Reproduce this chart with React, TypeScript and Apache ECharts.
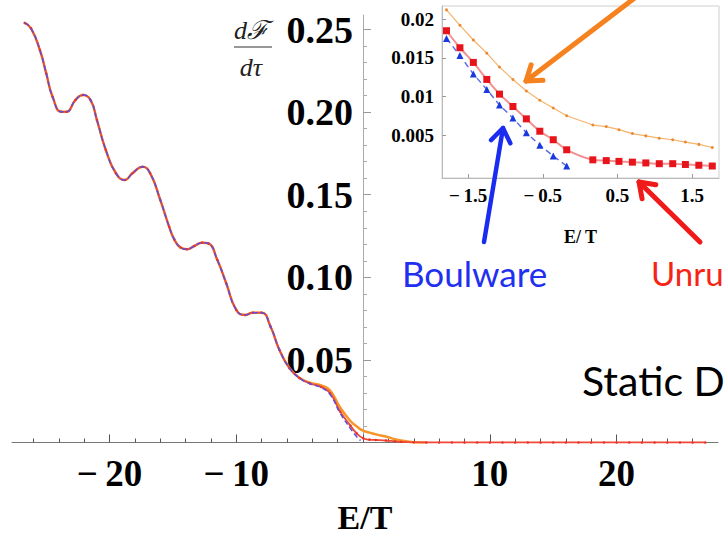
import React, { useEffect, useRef } from "react";
import * as echarts from "echarts";

// ---------- main plot data ----------
const mainX = [-26.7, -26.2, -25.5, -25.0, -24.5, -23.8, -23.4, -22.7, -22.1, -21.5, -21.0, -20.3, -19.5, -18.8, -18.2, -17.4, -16.8, -16.0, -15.3, -14.9, -14.4, -13.9, -13.3, -12.7, -12.2, -11.5, -10.8, -10.0, -9.3, -8.7, -8.0, -7.3, -6.6, -5.8, -5.0, -4.2, -3.3, -2.6, -1.8, -1.0, -0.5];
const mainRed = [0.254, 0.2507, 0.2376, 0.2235, 0.2093, 0.2002, 0.2002, 0.2073, 0.2104, 0.2073, 0.1952, 0.1771, 0.163, 0.1589, 0.163, 0.1669, 0.163, 0.1468, 0.1306, 0.123, 0.118, 0.117, 0.119, 0.121, 0.1205, 0.1105, 0.0964, 0.0802, 0.0772, 0.0786, 0.0786, 0.0701, 0.056, 0.0449, 0.0389, 0.0358, 0.0336, 0.0298, 0.0186, 0.0102, 0.0055];
const mainBlue = [0.254, 0.2507, 0.2376, 0.2235, 0.2093, 0.2002, 0.2002, 0.2073, 0.2104, 0.2073, 0.1952, 0.1771, 0.163, 0.1589, 0.163, 0.1669, 0.163, 0.1468, 0.1306, 0.123, 0.118, 0.117, 0.119, 0.121, 0.1205, 0.1105, 0.0964, 0.0802, 0.0772, 0.0786, 0.0786, 0.0701, 0.056, 0.0449, 0.0389, 0.0356, 0.0332, 0.029, 0.0176, 0.0085, 0.0035];
const mainOrange = [0.254, 0.2507, 0.2376, 0.2235, 0.2093, 0.2002, 0.2002, 0.2073, 0.2104, 0.2073, 0.1952, 0.1771, 0.163, 0.1589, 0.163, 0.1669, 0.163, 0.1468, 0.1306, 0.123, 0.118, 0.117, 0.119, 0.121, 0.1205, 0.1105, 0.0964, 0.0802, 0.0772, 0.0786, 0.0786, 0.0701, 0.056, 0.0449, 0.039, 0.0362, 0.0345, 0.0315, 0.021, 0.013, 0.0097];

const redTailX = [0, 0.5, 1.0, 1.8, 2.5, 3.0, 4, 5, 6, 7, 8, 9, 10, 11, 12, 13, 14, 15, 16, 17, 18, 19, 20, 21, 22, 23, 24, 25, 26, 27];
const redTailY = [0.0026, 0.0017, 0.0015, 0.0012, 0.0007, 0.0004, 0.0001, 0, 0, 0, 0, 0, 0, 0, 0, 0, 0, 0, 0, 0, 0, 0, 0, 0, 0, 0, 0, 0, 0, 0];
const blueTailX = [-0.2];
const blueTailY = [0.0012];
const orangeTailX = [0, 0.5, 1.0, 1.8, 2.5, 3.0, 3.5, 4.0, 5.0];
const orangeTailY = [0.0072, 0.006, 0.0049, 0.0036, 0.002, 0.0012, 0.0006, 0.0002, 0];

// ---------- inset data ----------
const insetX = [-1.79, -1.61, -1.43, -1.25, -1.08, -0.9, -0.72, -0.54, -0.36, -0.18, 0.17, 0.35, 0.52, 0.7, 0.88, 1.06, 1.24, 1.41, 1.59, 1.77];
const insetOrange = [0.0212, 0.0192, 0.0173, 0.0156, 0.0138, 0.0122, 0.0107, 0.0095, 0.0085, 0.0075, 0.0063, 0.0061, 0.0057, 0.0052, 0.0049, 0.0046, 0.0044, 0.0041, 0.0038, 0.0034];
const insetRed = [0.0185, 0.0163, 0.0144, 0.0122, 0.0103, 0.0087, 0.0071, 0.0055, 0.0044, 0.0031, 0.0018, 0.0017, 0.0016, 0.0015, 0.0014, 0.0013, 0.0013, 0.0012, 0.0011, 0.001];
const insetBlue = [0.0175, 0.0153, 0.0129, 0.0109, 0.0089, 0.0072, 0.0053, 0.0037, 0.0023, 0.001];

// ---------- tick positions ----------
const mainXLabels = [-20, -10, 10, 20];
const mainXMajorTicks = [-20, -10, 0, 10, 20];
const mainXMinorTicks = [-26, -24, -22, -18, -16, -14, -12, -8, -6, -4, -2, 2, 4, 6, 8, 12, 14, 16, 18, 22, 24, 26];
const mainYLabels = [0.05, 0.1, 0.15, 0.2, 0.25];
const mainYMinorTicks = [0.01, 0.02, 0.03, 0.04, 0.06, 0.07, 0.08, 0.09, 0.11, 0.12, 0.13, 0.14, 0.16, 0.17, 0.18, 0.19, 0.21, 0.22, 0.23, 0.24];
const insetXLabels = [-1.5, -0.5, 0.5, 1.5];
const insetYLabels = [0.005, 0.01, 0.015, 0.02];

const SERIF = '"Liberation Serif", "Times New Roman", serif';
const SANS = 'Lato, "Open Sans", sans-serif';

const zip = (xs: number[], ys: number[]) => ys.map((y, i) => [xs[i], y]);
const minusFmt = (v: number) => (v < 0 ? "\u2212\u2009" + Math.abs(v) : String(v));

function arrow(tail: [number, number], tip: [number, number], color: string, width: number) {
  const dx = tip[0] - tail[0];
  const dy = tip[1] - tail[1];
  const ang = Math.atan2(dy, dx);
  const L = 17;
  const a = (35 * Math.PI) / 180;
  const p1 = [tip[0] - L * Math.cos(ang - a), tip[1] - L * Math.sin(ang - a)];
  const p2 = [tip[0] - L * Math.cos(ang + a), tip[1] - L * Math.sin(ang + a)];
  return [
    { type: "line", shape: { x1: tail[0], y1: tail[1], x2: tip[0], y2: tip[1] }, style: { stroke: color, lineWidth: width, lineCap: "round" }, z: 50 },
    { type: "polyline", shape: { points: [p1, tip, p2] }, style: { stroke: color, lineWidth: width, fill: "none", lineCap: "round", lineJoin: "round" }, z: 50 },
  ];
}

const GRID_LEFT = 12;
const ZERO_PX = 363; // where the vertical axis crosses

export default function App() {
  const ref = useRef<HTMLDivElement>(null);
  useEffect(() => {
    if (!ref.current) return;
    const chart = echarts.init(ref.current, null, { renderer: "svg" });
    const labelStyle = { fontFamily: SERIF, fontWeight: "bold" as const, color: "#000" };
    const txt = (extra: any) => ({ textVerticalAlign: "middle", verticalAlign: "middle", ...extra });
    chart.setOption({
      animation: false,
      backgroundColor: "#fff",
      grid: [
        { left: GRID_LEFT, right: 6, top: 15, bottom: 95.5, containLabel: false, outerBoundsMode: "none" },
        { left: 442, right: 5, top: 6, bottom: 360, show: true, backgroundColor: "#fff", borderColor: "#cfcfcf", borderWidth: 1, containLabel: false, outerBoundsMode: "none" },
      ],
      xAxis: [
        {
          gridIndex: 0, type: "value", min: -27.7, max: 28,
          axisLine: { onZero: false, lineStyle: { color: "#777", width: 1 } },
          axisTick: { inside: true, length: 8, customValues: mainXMajorTicks, lineStyle: { color: "#555" } },
          axisLabel: { customValues: mainXLabels, formatter: minusFmt, fontSize: 37, margin: 12, ...labelStyle },
          splitLine: { show: false },
          name: "E/T", nameLocation: "middle", nameGap: 58,
          nameTextStyle: { fontFamily: SERIF, fontWeight: "bold", fontSize: 34, color: "#000" },
        },
        {
          gridIndex: 0, type: "value", min: -27.7, max: 28, position: "bottom",
          axisLine: { show: false, onZero: false },
          axisTick: { inside: true, length: 4, customValues: mainXMinorTicks, lineStyle: { color: "#555" } },
          axisLabel: { show: false }, splitLine: { show: false },
        },
        {
          gridIndex: 1, type: "value", min: -1.85, max: 1.86,
          axisLine: { onZero: false, lineStyle: { color: "#bbb" } },
          axisTick: { inside: true, length: 4, customValues: insetXLabels, lineStyle: { color: "#999" } },
          axisLabel: { customValues: insetXLabels, formatter: minusFmt, fontSize: 19, margin: 8, ...labelStyle },
          splitLine: { show: false },
          name: "E/ T", nameLocation: "middle", nameGap: 50,
          nameTextStyle: { fontFamily: SERIF, fontWeight: "bold", fontSize: 18, color: "#000" },
        },
      ],
      yAxis: [
        {
          gridIndex: 0, type: "value", min: 0, max: 0.2588, position: "left", offset: -(ZERO_PX - GRID_LEFT),
          axisLine: { onZero: false, lineStyle: { color: "#aaa" } },
          axisTick: { inside: true, length: 8, customValues: mainYLabels, lineStyle: { color: "#999" } },
          axisLabel: { customValues: mainYLabels, formatter: (v: number) => v.toFixed(2), fontSize: 38, margin: 10, ...labelStyle },
          splitLine: { show: false },
        },
        {
          gridIndex: 0, type: "value", min: 0, max: 0.2588, position: "left", offset: -(ZERO_PX - GRID_LEFT),
          axisLine: { show: false, onZero: false },
          axisTick: { inside: true, length: 4, customValues: mainYMinorTicks, lineStyle: { color: "#aaa" } },
          axisLabel: { show: false }, splitLine: { show: false },
        },
        {
          gridIndex: 1, type: "value", min: -0.00055, max: 0.0217,
          axisLine: { onZero: false, lineStyle: { color: "#bbb" } },
          axisTick: { inside: true, length: 4, customValues: insetYLabels, lineStyle: { color: "#999" } },
          axisLabel: { customValues: insetYLabels, formatter: (v: number) => String(v), fontSize: 19, margin: 8, ...labelStyle },
          splitLine: { show: false },
        },
      ],
      series: [
        {
          type: "line", xAxisIndex: 0, yAxisIndex: 0, smooth: true, showSymbol: false,
          data: zip(mainX, mainOrange).concat(zip(orangeTailX, orangeTailY)),
          lineStyle: { color: "#f7952a", width: 2.5 }, z: 3,
        },
        {
          type: "line", xAxisIndex: 0, yAxisIndex: 0, smooth: true, symbol: "circle", symbolSize: 2.5,
          data: zip(mainX, mainRed).concat(zip(redTailX, redTailY)),
          lineStyle: { color: "#ee4a3a", width: 1.8 }, itemStyle: { color: "#e8322a" }, z: 4,
        },
        {
          type: "line", xAxisIndex: 0, yAxisIndex: 0, smooth: true, showSymbol: false,
          data: zip(mainX, mainBlue).concat(zip(blueTailX, blueTailY)),
          lineStyle: { color: "#5b4fe0", width: 1.5, type: [5, 3] }, z: 5,
        },
        {
          type: "line", xAxisIndex: 2, yAxisIndex: 2, symbol: "circle", symbolSize: 3,
          data: zip(insetX, insetOrange),
          lineStyle: { color: "#f6b36a", width: 1.2 }, itemStyle: { color: "#ea8a30" }, z: 11,
        },
        {
          type: "line", xAxisIndex: 2, yAxisIndex: 2, smooth: 0.25, symbol: "rect", symbolSize: 7,
          data: zip(insetX, insetRed),
          lineStyle: { color: "#f39090", width: 2 }, itemStyle: { color: "#e8141c" }, z: 12,
        },
        {
          type: "line", xAxisIndex: 2, yAxisIndex: 2, symbol: "triangle", symbolSize: 7,
          data: zip(insetX, insetBlue),
          lineStyle: { color: "#5868e8", width: 1.4, type: [6, 4] }, itemStyle: { color: "#1a3ae0" }, z: 13,
        },
      ],
      graphic: [
        { type: "text", x: 251, y: 30, style: txt({ text: "d\u2131", fill: "#222", fontSize: 26, fontStyle: "italic", fontFamily: SERIF, textAlign: "center", align: "center" }) },
        { type: "line", shape: { x1: 234, y1: 47, x2: 272, y2: 47 }, style: { stroke: "#333", lineWidth: 1.2 } },
        { type: "text", x: 251, y: 67, style: txt({ text: "d\u03c4", fill: "#222", fontSize: 26, fontStyle: "italic", fontFamily: SERIF, textAlign: "center", align: "center" }) },
        { type: "text", x: 402, y: 273, style: txt({ text: "Boulware", fill: "#1f30ef", fontSize: 35, fontFamily: SANS, textAlign: "left", align: "left" }) },
        { type: "text", x: 651, y: 273, style: txt({ text: "Unru", fill: "#f52415", fontSize: 33, fontFamily: SANS, textAlign: "left", align: "left" }) },
        { type: "text", x: 582, y: 380, style: txt({ text: "Static D", fill: "#000", fontSize: 41, fontFamily: SANS, textAlign: "left", align: "left" }) },
        ...arrow([636, -3], [526, 81], "#f5821f", 5),
        ...arrow([484, 242], [503, 128], "#1a2cf0", 4.5),
        ...arrow([700, 242], [639, 182], "#f01a1a", 5),
      ],
    });
    return () => chart.dispose();
  }, []);
  return <div ref={ref} style={{ position: "absolute", left: 0, top: 0, width: 724, height: 538, background: "#fff" }} />;
}
